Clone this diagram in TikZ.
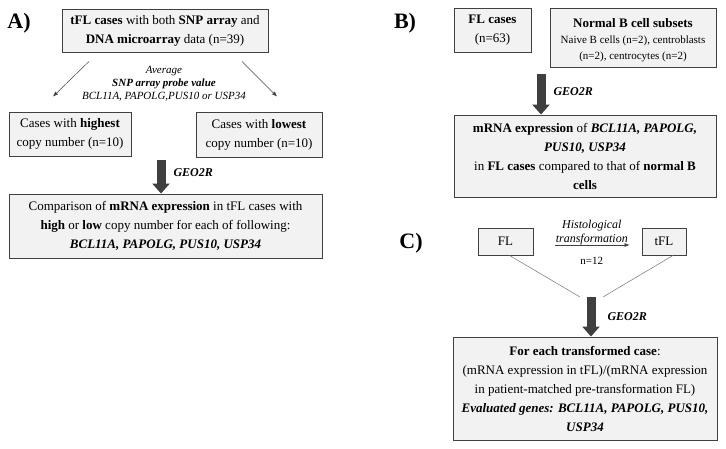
\documentclass[tikz,border=0pt]{standalone}
\usepackage{fontspec}
\setmainfont{Liberation Serif}
\usepackage{tikz}
\usetikzlibrary{arrows.meta}
\definecolor{boxfill}{HTML}{F2F2F2}
\definecolor{boxline}{HTML}{404040}
\definecolor{fatgray}{HTML}{3F3F3F}
\tikzset{Scheme/.style = {% styles of the three panels
      box/.style = {draw=boxline, fill=boxfill, line width=0.9pt,
                    align=center, inner sep=1pt, font=\fontsize{13}{19}\selectfont},
    panel/.style = {font=\fontsize{22}{22}\selectfont\bfseries},
 fatarrow/.style = {draw=fatgray, line width=9pt,
                    -{Triangle[width=17pt,length=10pt]}},
   thinarr/.style = {draw=black!75, line width=0.5pt, -{Latex[length=5pt,width=4pt]}},
  joinline/.style = {draw=black!55, line width=0.5pt},
    geo/.style = {font=\fontsize{12}{12}\selectfont\bfseries\itshape, anchor=west},
   small/.style = {font=\fontsize{11}{13}\selectfont, align=center}}
        }

\begin{document}
\begin{tikzpicture}[Scheme, x=1pt, y=1pt]
\useasboundingbox (0,0) rectangle (726,-449);

% panel A
\node (labA)  [panel] at (19,-23) {A)};
\node (topA)  [box, minimum width=206, minimum height=43] at (165,-30.5)
      {\textbf{tFL cases} with both \textbf{SNP array} and\\ \textbf{DNA microarray} data (n=39)};
\node (probe) [small, font=\fontsize{11}{12.8}\selectfont\itshape] at (164,-83.5)
      {Average\\ \textbf{SNP array probe value}\\ BCL11A, PAPOLG,PUS10 or USP34};
\node (hi)    [box, minimum width=122, minimum height=44] at (70,-134)
      {Cases with \textbf{highest}\\ copy number (n=10)};
\node (lo)    [box, minimum width=126, minimum height=45] at (259,-134.5)
      {Cases with \textbf{lowest}\\ copy number (n=10)};
\node (cmp)   [box, minimum width=313, minimum height=64] at (165.5,-226)
      {Comparison of \textbf{mRNA expression} in tFL cases with\\
       \textbf{high} or \textbf{low} copy number for each of following:\\
       \textbf{\textit{BCL11A, PAPOLG, PUS10, USP34}}};
\coordinate (geoA) at (161,-160);
\draw [thinarr] ([shift={(-76,-9)}]topA.south) -- ([shift={(-17,15)}]hi.north);
\draw [thinarr] ([shift={(77,-9)}]topA.south) -- ([shift={(18,15)}]lo.north);
\draw [fatarrow] (geoA) -- (geoA |- cmp.north);
\node [geo] at (170,-173) {GEO2R};

% panel B
\node (labB)  [panel] at (405,-23) {B)};
\node (fl)    [box, minimum width=77, minimum height=44] at (492.5,-30)
      {\textbf{FL cases}\\ (n=63)};
\node (normB) [box, minimum width=166, minimum height=59] at (633,-37.5)
      {\rule{0pt}{15pt}\textbf{Normal B cell subsets}\\[-3pt]
       {\fontsize{11}{16}\selectfont Naive B cells (n=2), centroblasts}\\[-3pt]
       {\fontsize{11}{16}\selectfont (n=2), centrocytes (n=2)}};
\node (mrna)  [box, minimum width=262, minimum height=82] at (585,-156)
      {\textbf{mRNA expression} of \textbf{\textit{BCL11A, PAPOLG,}}\\
       \textbf{\textit{PUS10, USP34}}\\
       in \textbf{FL cases} compared to that of \textbf{normal B}\\
       \textbf{cells}};
\coordinate (geoB) at (541,-74);
\draw [fatarrow] (geoB) -- (geoB |- mrna.north);
\node [geo] at (550,-92) {GEO2R};

% panel C
\node (labC)  [panel] at (411,-243) {C)};
\node (flC)   [box, minimum width=55, minimum height=27] at (505.5,-241.5) {FL};
\node (tflC)  [box, minimum width=44, minimum height=27] at (664,-241.5) {tFL};
\node (final) [box, minimum width=264, minimum height=103] at (585,-388.5)
      {\textbf{For each transformed case}:\\
       (mRNA expression in tFL)/(mRNA expression\\
       in patient-matched pre-transformation FL)\\
       \textbf{\textit{Evaluated genes: BCL11A, PAPOLG, PUS10,}}\\
       \textbf{\textit{USP34}}};
\coordinate (merge) at (591,-297);
\draw [thinarr, shorten <=22pt, shorten >=12pt] ([yshift=-3.5pt]flC.east) -- ([yshift=-3.5pt]tflC.west)
      node [pos=0.54, above=-3.5pt, small, font=\fontsize{12}{13.5}\selectfont\itshape]
           {Histological\\ transformation}
      node [pos=0.54, below=9pt, small, font=\fontsize{11}{12}\selectfont] {n=12};
\draw [joinline] ([xshift=4pt]flC.south) -- ([xshift=-11pt]merge);
\draw [joinline] ([xshift=9pt]tflC.south) -- ([xshift=12pt]merge);
\draw [fatarrow] (merge) -- (merge |- final.north);
\node [geo] at (604,-317) {GEO2R};

\end{tikzpicture}
\end{document}
